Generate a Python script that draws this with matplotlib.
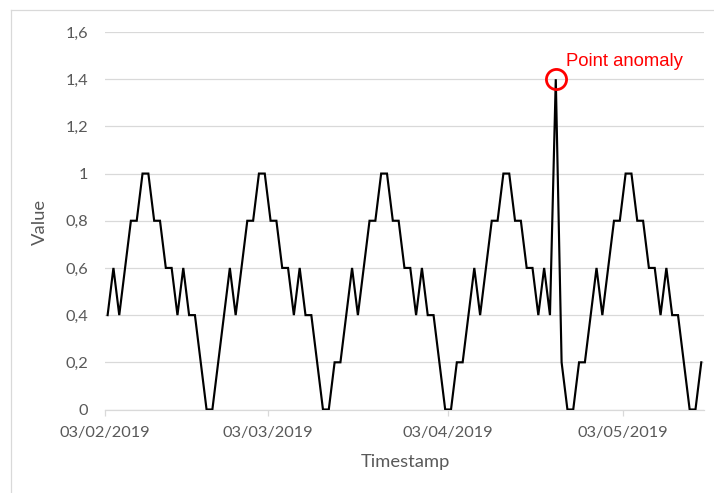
import matplotlib
matplotlib.use("Agg")
import matplotlib.pyplot as plt
import matplotlib.dates as mdates
from matplotlib.lines import Line2D
import numpy as np
import pandas as pd

# ---- data ----
start_date = "2019-02-03"
values = [
    0.4, 0.6, 0.4, 0.6, 0.8, 0.8, 1.0, 1.0, 0.8, 0.8, 0.6, 0.6, 0.4, 0.6, 0.4, 0.4, 0.2, 0.0, 0.0, 0.2, 0.4, 0.6,
    0.4, 0.6, 0.8, 0.8, 1.0, 1.0, 0.8, 0.8, 0.6, 0.6, 0.4, 0.6, 0.4, 0.4, 0.2, 0.0, 0.0, 0.2, 0.2, 0.4, 0.6,
    0.4, 0.6, 0.8, 0.8, 1.0, 1.0, 0.8, 0.8, 0.6, 0.6, 0.4, 0.6, 0.4, 0.4, 0.2, 0.0, 0.0, 0.2, 0.2, 0.4, 0.6,
    0.4, 0.6, 0.8, 0.8, 1.0, 1.0, 0.8, 0.8, 0.6, 0.6, 0.4, 0.6, 0.4, 1.4, 0.2, 0.0, 0.0, 0.2, 0.2, 0.4, 0.6,
    0.4, 0.6, 0.8, 0.8, 1.0, 1.0, 0.8, 0.8, 0.6, 0.6, 0.4, 0.6, 0.4, 0.4, 0.2, 0.0, 0.0, 0.2,
]
anomaly_index = 77
anomaly_label = "Point anomaly"
x_tick_dates = ["2019-02-03", "2019-03-03", "2019-04-03", "2019-05-03"]
y_ticks = [0, 0.2, 0.4, 0.6, 0.8, 1.0, 1.2, 1.4, 1.6]
y_tick_labels = ["0", "0,2", "0,4", "0,6", "0,8", "1", "1,2", "1,4", "1,6"]
x_title = "Timestamp"
y_title = "Value"

# ---- figure ----
W, H = 714, 493
fig = plt.figure(figsize=(W / 100, H / 100), dpi=100)
fig.patch.set_facecolor("white")

# chart-area border (only left and top edges fall inside the image)
fig.add_artist(Line2D([11 / W, 11 / W], [0, 1 - 10 / H], transform=fig.transFigure,
                      color="#d9d9d9", lw=0.9))
fig.add_artist(Line2D([11 / W, 1], [1 - 10 / H, 1 - 10 / H], transform=fig.transFigure,
                      color="#d9d9d9", lw=0.9))

left, right = 104.7 / W, 704.2 / W
bottom, top = 1 - 409.5 / H, 1 - 32.0 / H
ax = fig.add_axes([left, bottom, right - left, top - bottom])

dates = pd.date_range(start_date, periods=len(values), freq="D") + pd.Timedelta(hours=12)
ax.plot(dates, values, color="black", lw=1.55, solid_joinstyle="miter", zorder=3)

# anomaly marker
ax.plot([dates[anomaly_index]], [values[anomaly_index]], marker="o", markersize=14.5,
        markerfacecolor="none", markeredgecolor="#ff0000", markeredgewidth=2.0, zorder=4,
        clip_on=False)
ax.annotate(anomaly_label, xy=(dates[anomaly_index], values[anomaly_index]),
            xytext=(7.0, 6.5), textcoords="offset points", color="#ff0000",
            fontsize=13.3, family="Liberation Sans", ha="left", va="bottom")

x0 = pd.Timestamp(start_date)
ax.set_xlim(x0, x0 + pd.Timedelta(days=len(values)))
ax.set_ylim(0, 1.6)

ax.set_yticks(y_ticks)
ax.set_yticklabels(y_tick_labels)
ax.set_xticks([pd.Timestamp(d) for d in x_tick_dates])
ax.xaxis.set_major_formatter(mdates.DateFormatter("%d/%m/%Y"))

ax.grid(axis="y", color="#d9d9d9", lw=0.9, zorder=0)
ax.set_axisbelow(True)
for s in ["top", "right", "left"]:
    ax.spines[s].set_visible(False)
ax.spines["bottom"].set_color("#d9d9d9")
ax.spines["bottom"].set_linewidth(0.9)

ax.tick_params(axis="y", length=0, pad=12)
ax.tick_params(axis="x", length=4, width=0.9, color="#d9d9d9", direction="out", pad=8)
for lab in ax.get_xticklabels() + ax.get_yticklabels():
    lab.set_fontfamily("Lato")
    lab.set_fontsize(11.8)
    lab.set_color("#595959")

fig.text(405 / W, 1 - 462 / H, x_title, ha="center", va="center",
         family="Lato", fontsize=13.2, color="#595959")
fig.text(40 / W, 1 - 222 / H, y_title, ha="center", va="center", rotation=90,
         family="Lato", fontsize=13.2, color="#595959")

fig.savefig("out.png", dpi=100, facecolor="white")
